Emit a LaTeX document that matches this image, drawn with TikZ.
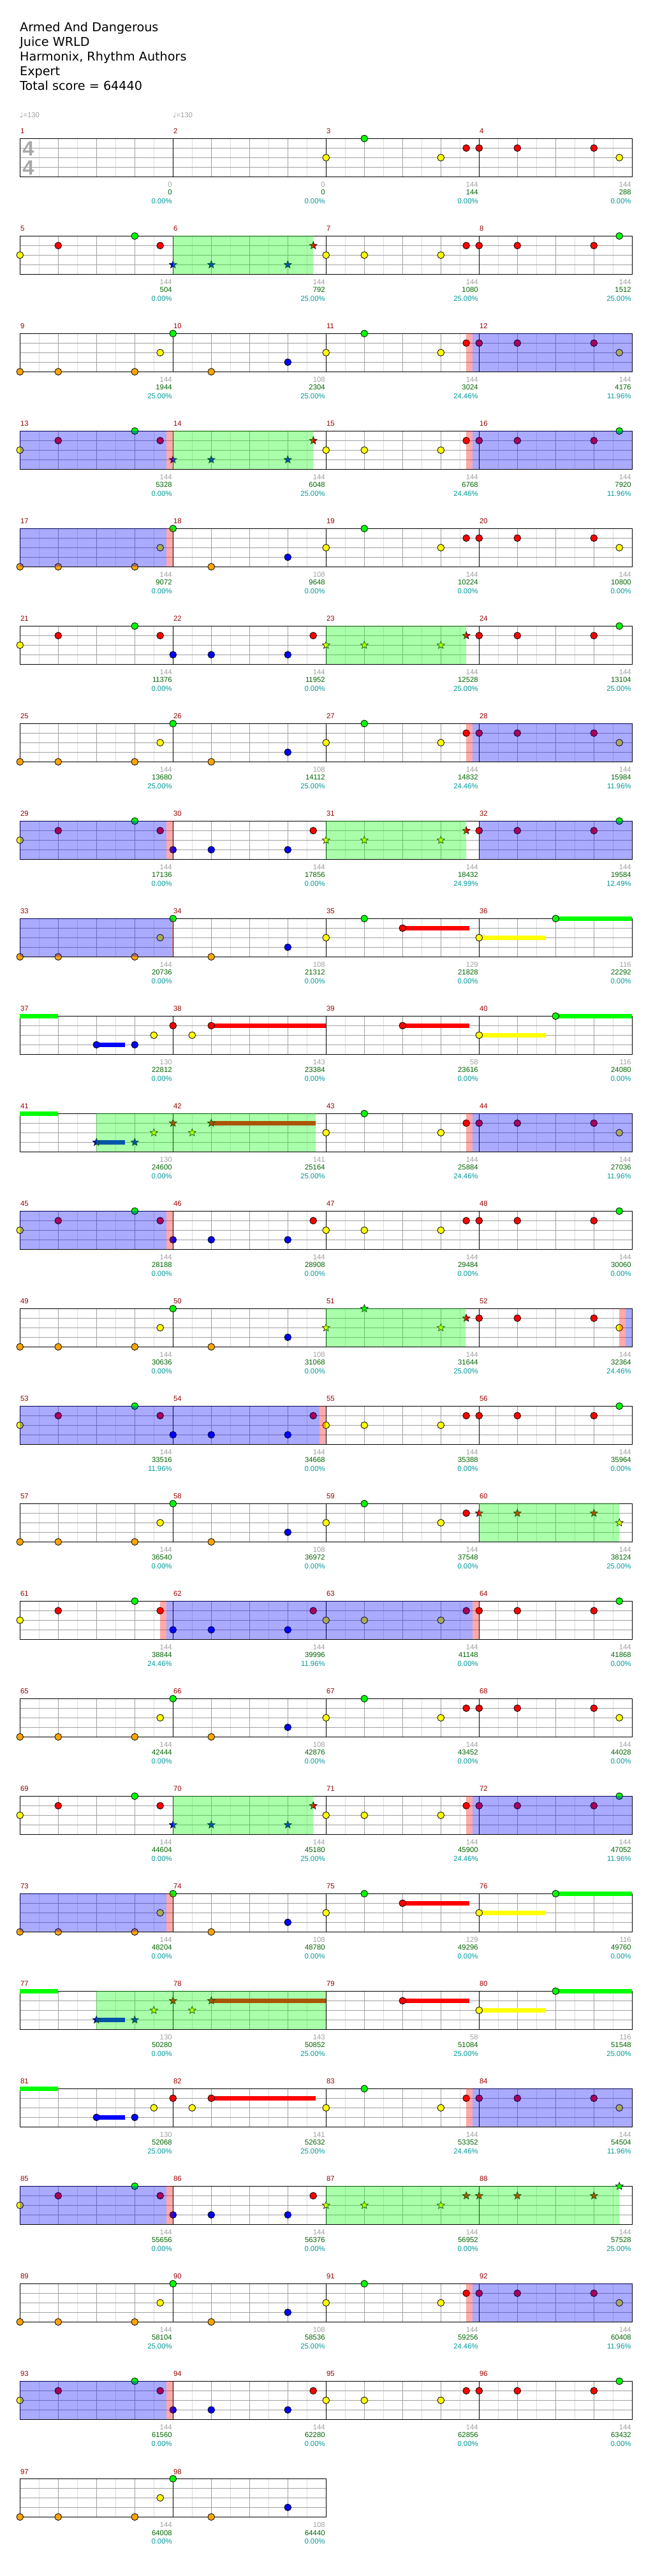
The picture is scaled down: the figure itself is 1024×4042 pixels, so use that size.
\documentclass[tikz,border=0pt]{standalone}
\usepackage{fontspec}
\setmainfont{Liberation Sans}
\newfontfamily\titlefont{DejaVu Sans}
\usepackage{tikz}
\usetikzlibrary{shapes.geometric}
\definecolor{lane0}{HTML}{00FF00}
\definecolor{lane1}{HTML}{FF0000}
\definecolor{lane2}{HTML}{FFFF00}
\definecolor{lane3}{HTML}{0000FF}
\definecolor{lane4}{HTML}{FFA500}
\definecolor{gridgray}{HTML}{A0A0A0}
\definecolor{gridlight}{HTML}{DCDCDC}
\definecolor{measred}{HTML}{990000}
\definecolor{scoregreen}{HTML}{006400}
\definecolor{pctteal}{HTML}{009999}
\definecolor{sigray}{HTML}{A8A8A8}

% note groups, lane/eighth (lane 0 = green ... 4 = orange)
\def\aone{4/0,4/2,4/6,2/7.33}
\def\atwo{0/8,4/10,3/14}
\def\athree{2/16,0/18,2/22,1/23.33}
\def\afour{1/24,1/26,1/30,2/31.33}
\def\bone{2/0,1/2,0/6,1/7.33}
\def\btwo{3/8,3/10,3/14,1/15.33}
\def\bthree{2/16,2/18,2/22,1/23.33}
\def\bfour{1/24,1/26,1/30,0/31.33}
\def\riff{3/4,3/6,2/7,1/8,2/9,1/10}

\newcommand\staffgrid[3]{% #1 row, #2 first measure, #3 measures
  \pgfmathtruncatemacro\eighths{8*#3}
  \foreach \i in {1,3,...,\eighths} \draw[eighthline] (\i,0) -- (\i,4);
  \foreach \i in {2,4,...,\eighths} \draw[beatline] (\i,0) -- (\i,4);
  \foreach \j in {1,2,3} \draw[beatline] (0,\j) -- (\eighths,\j);
  \foreach \m in {1,...,#3} {
    \pgfmathtruncatemacro\mstart{8*(\m-1)}
    \pgfmathtruncatemacro\mnum{#2+\m-1}
    \draw[barline] (\mstart,0) -- (\mstart,4);
    \node[measnum] (meas-\mnum) at (\mstart,-0.49) {\mnum};
  }
  \draw[barline] (0,0) rectangle (\eighths,4);
}
\newcommand\fretnotes[3]{% #1 row, #2 style, #3 notes
  \edef\notelist{#3}
  \foreach \l/\p in \notelist {
    \pgfmathtruncatemacro\pid{round(3*\p)}
    \node[#2, fill=lane\l] (note-#1-\l-\pid) at (\p,\l) {};
  }}
\newcommand\fretsus[3]{\draw[sustain, lane#1] (#2,#1) -- (#3,#1);}
\newcommand\fretzone[3]{\fill[zone, #1] (#2,0) rectangle (#3,4);}
\newcommand\barscores[2]{% #1 row, #2 beat/score/percent
  \foreach \b/\s/\q [count=\k] in {#2} {
    \node[beatlbl] (beat-#1-\k) at ({8*\k-0.05},5.07) {\b};
    \node[scorelbl] (score-#1-\k) at ({8*\k-0.05},5.91) {\s};
    \node[pctlbl] (pct-#1-\k) at ({8*\k-0.05},6.78) {\q\%};
  }}

\begin{document}
\begin{tikzpicture}[x=1pt, y=-1pt,
  row/.style={shift={(31.3,{217.3+153*(#1-1)})}, x=30pt, y=-15pt},
  eighthline/.style={gridlight, line width=1pt},
  beatline/.style={gridgray, line width=1pt},
  barline/.style={black, line width=1pt},
  measnum/.style={anchor=base west, inner sep=0pt, xshift=0.7pt, text=measred, font=\fontsize{11.3}{13}\selectfont},
  beatlbl/.style={anchor=base east, inner sep=0pt, text=gridgray, font=\fontsize{11.3}{13}\selectfont},
  scorelbl/.style={beatlbl, text=scoregreen},
  pctlbl/.style={beatlbl, text=pctteal},
  fretnote/.style={circle, draw=black, line width=0.8pt, minimum size=10.7pt, inner sep=0pt},
  fretstar/.style={star, star points=5, star point ratio=2.3, draw=black, line width=0.6pt, minimum size=12.5pt, inner sep=0pt},
  sustain/.style={line width=6.5pt},
  zone/.style={opacity=1/3},
  title/.style={anchor=base west, inner sep=0pt, font=\titlefont\fontsize{19.2}{23}\selectfont},
  tempo/.style={anchor=base west, inner sep=0pt, text=gridgray, font=\fontsize{11.3}{13}\selectfont},
  timesig/.style={inner sep=0pt, text=sigray, font=\bfseries\fontsize{32.5}{34}\selectfont}
]
\useasboundingbox (0,0) rectangle (1024,4042);
\fill[white] (0,0) rectangle (1024,4042);

% header
\node[title] (song) at (31,49.3) {Armed And Dangerous};
\node[title] (artist) at (31,72.3) {Juice WRLD};
\node[title] (charter) at (31,95.3) {Harmonix, Rhythm Authors};
\node[title] (level) at (31,118.3) {Expert};
\node[title] (total) at (31,141.3) {Total score = 64440};
\node[tempo] (tempo-1) at (31,184.3) {{\titlefont ♩}=130};
\node[tempo] (tempo-2) at (271,184.3) {{\titlefont ♩}=130};

% row 1: measures 1-4
\begin{scope}[row=1]
  \staffgrid{1}{1}{4}
  \fretnotes{1}{fretnote}{\athree}
  \fretnotes{1}{fretnote}{\afour}
  \barscores{1}{0/0/0.00, 0/0/0.00, 144/144/0.00, 144/288/0.00}
\end{scope}
\node[timesig] (sig-top) at (44.3,233.3) {4};
\node[timesig] (sig-bottom) at (44.3,263) {4};

% row 2: measures 5-8
\begin{scope}[row=2]
  \staffgrid{2}{5}{4}
  \fretnotes{2}{fretnote}{\bone}
  \fretnotes{2}{fretstar}{\btwo}
  \fretnotes{2}{fretnote}{\bthree}
  \fretnotes{2}{fretnote}{\bfour}
  \fretzone{lane0}{8}{15.33}
  \barscores{2}{144/504/0.00, 144/792/25.00, 144/1080/25.00, 144/1512/25.00}
\end{scope}

% row 3: measures 9-12
\begin{scope}[row=3]
  \staffgrid{3}{9}{4}
  \fretnotes{3}{fretnote}{\aone}
  \fretnotes{3}{fretnote}{\atwo}
  \fretnotes{3}{fretnote}{\athree}
  \fretnotes{3}{fretnote}{\afour}
  \fretzone{lane1}{23.33}{23.67}
  \fretzone{lane3}{23.67}{32}
  \barscores{3}{144/1944/25.00, 108/2304/25.00, 144/3024/24.46, 144/4176/11.96}
\end{scope}

% row 4: measures 13-16
\begin{scope}[row=4]
  \staffgrid{4}{13}{4}
  \fretnotes{4}{fretnote}{\bone}
  \fretnotes{4}{fretstar}{\btwo}
  \fretnotes{4}{fretnote}{\bthree}
  \fretnotes{4}{fretnote}{\bfour}
  \fretzone{lane3}{0}{7.67}
  \fretzone{lane1}{7.67}{8}
  \fretzone{lane0}{8}{15.33}
  \fretzone{lane1}{23.33}{23.67}
  \fretzone{lane3}{23.67}{32}
  \barscores{4}{144/5328/0.00, 144/6048/25.00, 144/6768/24.46, 144/7920/11.96}
\end{scope}

% row 5: measures 17-20
\begin{scope}[row=5]
  \staffgrid{5}{17}{4}
  \fretnotes{5}{fretnote}{\aone}
  \fretnotes{5}{fretnote}{\atwo}
  \fretnotes{5}{fretnote}{\athree}
  \fretnotes{5}{fretnote}{\afour}
  \fretzone{lane3}{0}{7.67}
  \fretzone{lane1}{7.67}{8}
  \barscores{5}{144/9072/0.00, 108/9648/0.00, 144/10224/0.00, 144/10800/0.00}
\end{scope}

% row 6: measures 21-24
\begin{scope}[row=6]
  \staffgrid{6}{21}{4}
  \fretnotes{6}{fretnote}{\bone}
  \fretnotes{6}{fretnote}{\btwo}
  \fretnotes{6}{fretstar}{\bthree}
  \fretnotes{6}{fretnote}{\bfour}
  \fretzone{lane0}{16}{23.33}
  \barscores{6}{144/11376/0.00, 144/11952/0.00, 144/12528/25.00, 144/13104/25.00}
\end{scope}

% row 7: measures 25-28
\begin{scope}[row=7]
  \staffgrid{7}{25}{4}
  \fretnotes{7}{fretnote}{\aone}
  \fretnotes{7}{fretnote}{\atwo}
  \fretnotes{7}{fretnote}{\athree}
  \fretnotes{7}{fretnote}{\afour}
  \fretzone{lane1}{23.33}{23.67}
  \fretzone{lane3}{23.67}{32}
  \barscores{7}{144/13680/25.00, 108/14112/25.00, 144/14832/24.46, 144/15984/11.96}
\end{scope}

% row 8: measures 29-32
\begin{scope}[row=8]
  \staffgrid{8}{29}{4}
  \fretnotes{8}{fretnote}{\bone}
  \fretnotes{8}{fretnote}{\btwo}
  \fretnotes{8}{fretstar}{\bthree}
  \fretnotes{8}{fretnote}{\bfour}
  \fretzone{lane3}{0}{7.67}
  \fretzone{lane1}{7.67}{8}
  \fretzone{lane0}{16}{23.33}
  \fretzone{lane3}{24}{32}
  \barscores{8}{144/17136/0.00, 144/17856/0.00, 144/18432/24.99, 144/19584/12.49}
\end{scope}

% row 9: measures 33-36
\begin{scope}[row=9]
  \staffgrid{9}{33}{4}
  \fretsus{1}{20}{23.5}
  \fretsus{2}{24}{27.5}
  \fretsus{0}{28}{32}
  \fretnotes{9}{fretnote}{\aone}
  \fretnotes{9}{fretnote}{\atwo}
  \fretnotes{9}{fretnote}{2/16,0/18,1/20,2/24,0/28}
  \fretzone{lane3}{0}{7.95}
  \fretzone{lane1}{7.95}{8}
  \barscores{9}{144/20736/0.00, 108/21312/0.00, 129/21828/0.00, 116/22292/0.00}
\end{scope}

% row 10: measures 37-40
\begin{scope}[row=10]
  \staffgrid{10}{37}{4}
  \fretsus{0}{0}{2}
  \fretsus{3}{4}{5.5}
  \fretsus{1}{10}{16}
  \fretsus{1}{20}{23.5}
  \fretsus{2}{24}{27.5}
  \fretsus{0}{28}{32}
  \fretnotes{10}{fretnote}{\riff}
  \fretnotes{10}{fretnote}{1/20,2/24,0/28}
  \barscores{10}{130/22812/0.00, 143/23384/0.00, 58/23616/0.00, 116/24080/0.00}
\end{scope}

% row 11: measures 41-44
\begin{scope}[row=11]
  \staffgrid{11}{41}{4}
  \fretsus{0}{0}{2}
  \fretsus{3}{4}{5.5}
  \fretsus{1}{10}{15.45}
  \fretnotes{11}{fretstar}{\riff}
  \fretnotes{11}{fretnote}{\athree}
  \fretnotes{11}{fretnote}{\afour}
  \fretzone{lane0}{4}{15.45}
  \fretzone{lane1}{23.33}{23.67}
  \fretzone{lane3}{23.67}{32}
  \barscores{11}{130/24600/0.00, 141/25164/25.00, 144/25884/24.46, 144/27036/11.96}
\end{scope}

% row 12: measures 45-48
\begin{scope}[row=12]
  \staffgrid{12}{45}{4}
  \fretnotes{12}{fretnote}{\bone}
  \fretnotes{12}{fretnote}{\btwo}
  \fretnotes{12}{fretnote}{\bthree}
  \fretnotes{12}{fretnote}{\bfour}
  \fretzone{lane3}{0}{7.67}
  \fretzone{lane1}{7.67}{8}
  \barscores{12}{144/28188/0.00, 144/28908/0.00, 144/29484/0.00, 144/30060/0.00}
\end{scope}

% row 13: measures 49-52
\begin{scope}[row=13]
  \staffgrid{13}{49}{4}
  \fretnotes{13}{fretnote}{\aone}
  \fretnotes{13}{fretnote}{\atwo}
  \fretnotes{13}{fretstar}{\athree}
  \fretnotes{13}{fretnote}{\afour}
  \fretzone{lane0}{16}{23.3}
  \fretzone{lane1}{31.33}{31.67}
  \fretzone{lane3}{31.67}{32}
  \barscores{13}{144/30636/0.00, 108/31068/0.00, 144/31644/25.00, 144/32364/24.46}
\end{scope}

% row 14: measures 53-56
\begin{scope}[row=14]
  \staffgrid{14}{53}{4}
  \fretnotes{14}{fretnote}{\bone}
  \fretnotes{14}{fretnote}{\btwo}
  \fretnotes{14}{fretnote}{\bthree}
  \fretnotes{14}{fretnote}{\bfour}
  \fretzone{lane3}{0}{15.67}
  \fretzone{lane1}{15.67}{16}
  \barscores{14}{144/33516/11.96, 144/34668/0.00, 144/35388/0.00, 144/35964/0.00}
\end{scope}

% row 15: measures 57-60
\begin{scope}[row=15]
  \staffgrid{15}{57}{4}
  \fretnotes{15}{fretnote}{\aone}
  \fretnotes{15}{fretnote}{\atwo}
  \fretnotes{15}{fretnote}{\athree}
  \fretnotes{15}{fretstar}{\afour}
  \fretzone{lane0}{24}{31.33}
  \barscores{15}{144/36540/0.00, 108/36972/0.00, 144/37548/0.00, 144/38124/25.00}
\end{scope}

% row 16: measures 61-64
\begin{scope}[row=16]
  \staffgrid{16}{61}{4}
  \fretnotes{16}{fretnote}{\bone}
  \fretnotes{16}{fretnote}{\btwo}
  \fretnotes{16}{fretnote}{\bthree}
  \fretnotes{16}{fretnote}{\bfour}
  \fretzone{lane1}{7.33}{7.67}
  \fretzone{lane3}{7.67}{23.67}
  \fretzone{lane1}{23.67}{24}
  \barscores{16}{144/38844/24.46, 144/39996/11.96, 144/41148/0.00, 144/41868/0.00}
\end{scope}

% row 17: measures 65-68
\begin{scope}[row=17]
  \staffgrid{17}{65}{4}
  \fretnotes{17}{fretnote}{\aone}
  \fretnotes{17}{fretnote}{\atwo}
  \fretnotes{17}{fretnote}{\athree}
  \fretnotes{17}{fretnote}{\afour}
  \barscores{17}{144/42444/0.00, 108/42876/0.00, 144/43452/0.00, 144/44028/0.00}
\end{scope}

% row 18: measures 69-72
\begin{scope}[row=18]
  \staffgrid{18}{69}{4}
  \fretnotes{18}{fretnote}{\bone}
  \fretnotes{18}{fretstar}{\btwo}
  \fretnotes{18}{fretnote}{\bthree}
  \fretnotes{18}{fretnote}{\bfour}
  \fretzone{lane0}{8}{15.33}
  \fretzone{lane1}{23.33}{23.67}
  \fretzone{lane3}{23.67}{32}
  \barscores{18}{144/44604/0.00, 144/45180/25.00, 144/45900/24.46, 144/47052/11.96}
\end{scope}

% row 19: measures 73-76
\begin{scope}[row=19]
  \staffgrid{19}{73}{4}
  \fretsus{1}{20}{23.5}
  \fretsus{2}{24}{27.5}
  \fretsus{0}{28}{32}
  \fretnotes{19}{fretnote}{\aone}
  \fretnotes{19}{fretnote}{\atwo}
  \fretnotes{19}{fretnote}{2/16,0/18,1/20,2/24,0/28}
  \fretzone{lane3}{0}{7.67}
  \fretzone{lane1}{7.67}{8}
  \barscores{19}{144/48204/0.00, 108/48780/0.00, 129/49296/0.00, 116/49760/0.00}
\end{scope}

% row 20: measures 77-80
\begin{scope}[row=20]
  \staffgrid{20}{77}{4}
  \fretsus{0}{0}{2}
  \fretsus{3}{4}{5.5}
  \fretsus{1}{10}{16}
  \fretsus{1}{20}{23.5}
  \fretsus{2}{24}{27.5}
  \fretsus{0}{28}{32}
  \fretnotes{20}{fretstar}{\riff}
  \fretnotes{20}{fretnote}{1/20,2/24,0/28}
  \fretzone{lane0}{4}{16}
  \barscores{20}{130/50280/0.00, 143/50852/25.00, 58/51084/25.00, 116/51548/25.00}
\end{scope}

% row 21: measures 81-84
\begin{scope}[row=21]
  \staffgrid{21}{81}{4}
  \fretsus{0}{0}{2}
  \fretsus{3}{4}{5.5}
  \fretsus{1}{10}{15.45}
  \fretnotes{21}{fretnote}{\riff}
  \fretnotes{21}{fretnote}{\athree}
  \fretnotes{21}{fretnote}{\afour}
  \fretzone{lane1}{23.33}{23.67}
  \fretzone{lane3}{23.67}{32}
  \barscores{21}{130/52068/25.00, 141/52632/25.00, 144/53352/24.46, 144/54504/11.96}
\end{scope}

% row 22: measures 85-88
\begin{scope}[row=22]
  \staffgrid{22}{85}{4}
  \fretnotes{22}{fretnote}{\bone}
  \fretnotes{22}{fretnote}{\btwo}
  \fretnotes{22}{fretstar}{\bthree}
  \fretnotes{22}{fretstar}{\bfour}
  \fretzone{lane3}{0}{7.67}
  \fretzone{lane1}{7.67}{8}
  \fretzone{lane0}{16}{31.33}
  \barscores{22}{144/55656/0.00, 144/56376/0.00, 144/56952/0.00, 144/57528/25.00}
\end{scope}

% row 23: measures 89-92
\begin{scope}[row=23]
  \staffgrid{23}{89}{4}
  \fretnotes{23}{fretnote}{\aone}
  \fretnotes{23}{fretnote}{\atwo}
  \fretnotes{23}{fretnote}{\athree}
  \fretnotes{23}{fretnote}{\afour}
  \fretzone{lane1}{23.33}{23.67}
  \fretzone{lane3}{23.67}{32}
  \barscores{23}{144/58104/25.00, 108/58536/25.00, 144/59256/24.46, 144/60408/11.96}
\end{scope}

% row 24: measures 93-96
\begin{scope}[row=24]
  \staffgrid{24}{93}{4}
  \fretnotes{24}{fretnote}{\bone}
  \fretnotes{24}{fretnote}{\btwo}
  \fretnotes{24}{fretnote}{\bthree}
  \fretnotes{24}{fretnote}{\bfour}
  \fretzone{lane3}{0}{7.67}
  \fretzone{lane1}{7.67}{8}
  \barscores{24}{144/61560/0.00, 144/62280/0.00, 144/62856/0.00, 144/63432/0.00}
\end{scope}

% row 25: measures 97-98
\begin{scope}[row=25]
  \staffgrid{25}{97}{2}
  \fretnotes{25}{fretnote}{\aone}
  \fretnotes{25}{fretnote}{\atwo}
  \barscores{25}{144/64008/0.00, 108/64440/0.00}
\end{scope}
\end{tikzpicture}
\end{document}
